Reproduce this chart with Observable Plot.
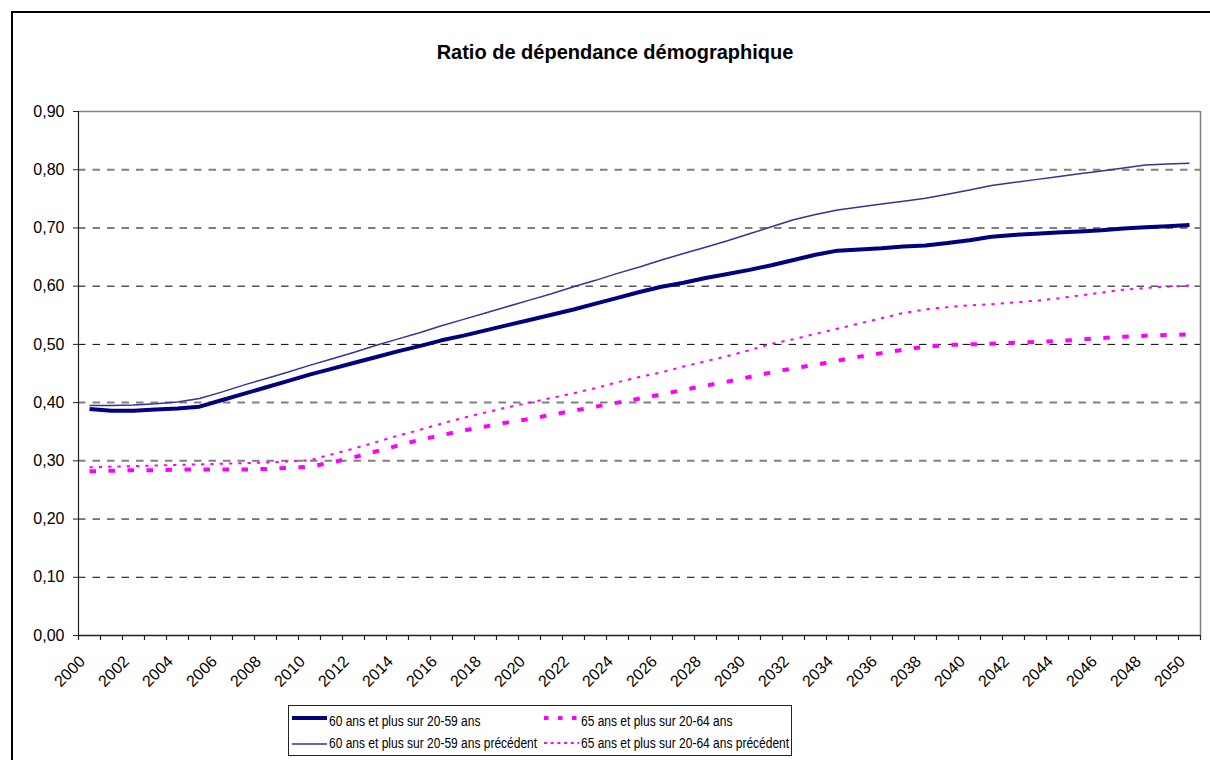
<!DOCTYPE html>
<html>
<head>
<meta charset="utf-8">
<script src="https://cdn.jsdelivr.net/npm/d3@7"></script>
<script src="https://cdn.jsdelivr.net/npm/@observablehq/plot@0.6"></script>
<style>
  html, body { margin: 0; padding: 0; background: #fff; }
  body { width: 1210px; height: 760px; overflow: hidden; position: relative; font-family: "Liberation Sans", Arial, sans-serif; }
  #frame { position: absolute; left: 11px; top: 11px; width: 1220px; height: 780px; border: 2px solid #000; box-sizing: border-box; }
  #title { position: absolute; left: 0; width: 1230px; top: 41px; text-align: center; font-size: 20px; font-weight: bold; line-height: 23px; color: #000; }
  #chart { position: absolute; left: 0; top: 0; }
  #legend { position: absolute; left: 288px; top: 705px; width: 504px; height: 51px; border: 1px solid #222; box-sizing: border-box; background: #fff; }
  .lg { position: absolute; font-size: 14px; line-height: 16px; white-space: nowrap; transform: scaleX(0.857); transform-origin: 0 50%; color: #000; }
  .sw { position: absolute; }
</style>
</head>
<body>
<div id="frame"></div>
<div id="title">Ratio de dépendance démographique</div>
<div id="chart"></div>
<div id="legend"></div>
<script>
// ---- Data ----
const years = d3.range(2000, 2051);
const labelYears = d3.range(2000, 2051, 2);
const yTicks = [0, 0.1, 0.2, 0.3, 0.4, 0.5, 0.6, 0.7, 0.8, 0.9];
const seriesNames = [
  "60 ans et plus sur 20-59 ans",
  "65 ans et plus sur 20-64 ans",
  "60 ans et plus sur 20-59 ans précédent",
  "65 ans et plus sur 20-64 ans précédent"
];
const ratio60 = [
  0.389, 0.386, 0.386, 0.388, 0.390, 0.393, 0.404, 0.415, 0.426, 0.437,
  0.448, 0.458, 0.468, 0.478, 0.488, 0.497, 0.507, 0.515, 0.524, 0.533,
  0.542, 0.551, 0.560, 0.570, 0.580, 0.590, 0.599, 0.606, 0.614, 0.621,
  0.628, 0.636, 0.645, 0.654, 0.661, 0.663, 0.665, 0.668, 0.670, 0.674,
  0.679, 0.685, 0.688, 0.690, 0.692, 0.694, 0.696, 0.699, 0.701, 0.703,
  0.705
];
const ratio60Prec = [
  0.395, 0.395, 0.396, 0.398, 0.401, 0.407, 0.418, 0.430, 0.441, 0.452,
  0.464, 0.475, 0.486, 0.498, 0.509, 0.520, 0.532, 0.543, 0.554, 0.565,
  0.576, 0.587, 0.599, 0.610, 0.622, 0.633, 0.645, 0.656, 0.667, 0.678,
  0.690, 0.702, 0.714, 0.723, 0.731, 0.736, 0.741, 0.746, 0.751, 0.758,
  0.765, 0.773, 0.778, 0.783, 0.788, 0.793, 0.798, 0.803, 0.808, 0.810,
  0.811
];
const ratio65 = [
  0.282, 0.283, 0.284, 0.284, 0.285, 0.285, 0.285, 0.285, 0.286, 0.288,
  0.290, 0.297, 0.306, 0.316, 0.326, 0.336, 0.344, 0.352, 0.359, 0.366,
  0.372, 0.379, 0.386, 0.393, 0.400, 0.407, 0.414, 0.422, 0.429, 0.436,
  0.444, 0.452, 0.459, 0.465, 0.472, 0.479, 0.485, 0.491, 0.496, 0.499,
  0.500, 0.501, 0.503, 0.504, 0.506, 0.508, 0.511, 0.513, 0.515, 0.516,
  0.517
];
const ratio65Prec = [
  0.289, 0.290, 0.291, 0.292, 0.293, 0.294, 0.295, 0.296, 0.297, 0.299,
  0.301, 0.311, 0.321, 0.332, 0.343, 0.353, 0.364, 0.374, 0.383, 0.392,
  0.400, 0.408, 0.416, 0.425, 0.435, 0.444, 0.452, 0.462, 0.471, 0.480,
  0.490, 0.501, 0.509, 0.518, 0.527, 0.536, 0.545, 0.554, 0.560, 0.564,
  0.567, 0.569, 0.572, 0.575, 0.579, 0.584, 0.589, 0.594, 0.597, 0.599,
  0.601
];

// ---- Styles ----
const styles = [
  {stroke: "#000080", strokeWidth: 4, dash: null},
  {stroke: "#ff00ff", strokeWidth: 4, dash: "6.5,12.5"},
  {stroke: "#333399", strokeWidth: 1.5, dash: null},
  {stroke: "#ff00ff", strokeWidth: 2, dash: "3.3,6"}
];
const values = [ratio60, ratio65, ratio60Prec, ratio65Prec];
const tables = values.map(v => years.map((yr, i) => ({year: yr, value: v[i]})));

const boundaries = d3.range(1999.5, 2051, 1);
const fmt = d => d3.format(".2f")(d).replace(".", ",");
const grayGrid = [0.3, 0.4, 0.7, 0.8];
const blackGrid = [0.1, 0.2, 0.5, 0.6];

const lineMarks = [2, 3, 0, 1].map(k => Plot.line(tables[k], {
  x: "year", y: "value",
  stroke: styles[k].stroke, strokeWidth: styles[k].strokeWidth,
  strokeDasharray: styles[k].dash || undefined,
  strokeLinecap: "butt", strokeLinejoin: "round"
}));

const chart = Plot.plot({
  width: 1210, height: 700,
  marginLeft: 78, marginRight: 10, marginTop: 111, marginBottom: 65,
  style: {fontFamily: "'Liberation Sans', Arial, sans-serif", fontSize: "16px", color: "#000", background: "transparent"},
  x: {domain: [1999.5, 2050.5], axis: null},
  y: {domain: [0, 0.9], axis: null},
  marks: [
    Plot.ruleY(grayGrid, {stroke: "#808080", strokeWidth: 2, strokeDasharray: "7.5,7"}),
    Plot.ruleY(blackGrid, {stroke: "#000", strokeWidth: 1, strokeDasharray: "7.5,7"}),
    Plot.ruleY([0.9], {stroke: "#808080", strokeWidth: 1.5}),
    Plot.ruleX([2050.5], {stroke: "#808080", strokeWidth: 1.5}),
    ...lineMarks,
    Plot.ruleY([0], {stroke: "#222", strokeWidth: 1.5}),
    Plot.ruleX([1999.5], {stroke: "#222", strokeWidth: 1.2}),
    Plot.ruleX(boundaries, {y1: 0, y2: 0, insetBottom: -5, stroke: "#222", strokeWidth: 1.2}),
    Plot.axisY({ticks: yTicks, tickSize: 5, tickPadding: 9, tickFormat: fmt, stroke: "#222", fontSize: 16, label: null}),
    Plot.text(labelYears, {x: d => d, text: d => String(d), frameAnchor: "bottom", dy: 27, dx: -3.5, rotate: -45, textAnchor: "end", lineAnchor: "bottom", fontSize: 16, fill: "#000"})
  ]
});
document.getElementById("chart").appendChild(chart);

// ---- Legend ----
const legend = document.getElementById("legend");
const L = 288, T = 705;
const items = [
  {k: 0, sx: 292, sy: 718.3, tx: 329, ty: 713, dash: null, w: 4},
  {k: 1, sx: 544, sy: 717.7, tx: 581, ty: 713, dash: "4.5,9.5", w: 4},
  {k: 2, sx: 292, sy: 743.5, tx: 329, ty: 735, dash: null, w: 1.5},
  {k: 3, sx: 544, sy: 742.5, tx: 581, ty: 735, dash: "3,3.7", w: 2}
];
for (const it of items) {
  const ns = "http://www.w3.org/2000/svg";
  const svg = document.createElementNS(ns, "svg");
  svg.setAttribute("width", 36); svg.setAttribute("height", 10);
  svg.setAttribute("class", "sw");
  svg.style.left = (it.sx - L - 1) + "px";
  svg.style.top = (it.sy - T - 1 - 5) + "px";
  const ln = document.createElementNS(ns, "line");
  ln.setAttribute("x1", 0); ln.setAttribute("x2", 35);
  ln.setAttribute("y1", 5); ln.setAttribute("y2", 5);
  ln.setAttribute("stroke", styles[it.k].stroke);
  ln.setAttribute("stroke-width", it.w);
  if (it.dash) ln.setAttribute("stroke-dasharray", it.dash);
  svg.appendChild(ln);
  legend.appendChild(svg);
  const span = document.createElement("div");
  span.className = "lg";
  span.textContent = seriesNames[it.k];
  span.style.left = (it.tx - L - 1) + "px";
  span.style.top = (it.ty - T - 1) + "px";
  legend.appendChild(span);
}
</script>
</body>
</html>
